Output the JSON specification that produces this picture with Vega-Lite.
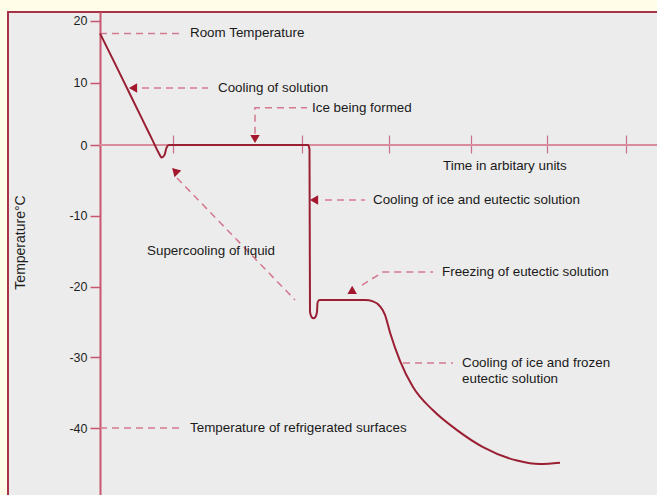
{
  "$schema": "https://vega.github.io/schema/vega-lite/v6.json",
  "width": 650,
  "height": 484,
  "autosize": {"type": "none"},
  "padding": {"left": 8, "top": 12, "right": 0, "bottom": 0},
  "background": "#fffde7",
  "config": {
    "view": {"fill": "#ececec", "stroke": "#a8324a", "strokeWidth": 2},
    "font": "Liberation Sans"
  },
  "encoding": {
    "x": {
      "field": "x", "type": "quantitative",
      "scale": {"domain": [-9.2, 55.8], "nice": false, "zero": false},
      "axis": {
        "orient": "bottom", "offset": -361, "values": [7.3, 20.2, 28.9, 37.1, 44.7, 52.6],
        "domain": false, "labels": false, "grid": false, "ticks": true, "tickSize": 18,
        "tickColor": "#c8708a", "tickWidth": 1.2, "title": null
      }
    },
    "y": {
      "field": "y", "type": "quantitative",
      "scale": {"domain": [-49.61, 0, 21.45], "range": [484, 133, 0], "nice": false, "zero": false},
      "axis": {
        "orient": "left", "offset": -92, "values": [20, 10, 0, -10, -20, -30, -40], "grid": false,
        "labelExpr": "datum.value + ''",
        "domainColor": "#c8566e", "domainWidth": 2, "tickColor": "#c8566e", "tickSize": 10, "tickWidth": 1.5,
        "labelFont": "Liberation Sans", "labelFontSize": 12.5, "labelColor": "#1e1e1e", "labelPadding": 3,
        "title": "Temperature°C", "titleX": -80, "titleY": 230, "titleAngle": -90, "titleAlign": "center",
        "titleBaseline": "middle", "titleFontSize": 14, "titleFontWeight": "normal", "titleColor": "#1e1e1e",
        "titleFont": "Liberation Sans"
      }
    }
  },
  "layer": [
    {
      "data": {"values": [{"x": 0, "x2": 55.8, "y": 0}]},
      "mark": {"type": "rule", "color": "#d88c9c", "strokeWidth": 2},
      "encoding": {"x2": {"field": "x2"}}
    },
    {
      "data": {"values": [
        {"seg": "A", "o": 1, "x": 0, "y": 18}, {"seg": "A", "o": 2, "x": 8.3, "y": 18},
        {"seg": "B", "o": 1, "x": 4.2, "y": 9.2}, {"seg": "B", "o": 2, "x": 10.8, "y": 9.2},
        {"seg": "C", "o": 1, "x": 15.5, "y": 1.8}, {"seg": "C", "o": 2, "x": 15.5, "y": 6.0}, {"seg": "C", "o": 3, "x": 20.7, "y": 6.0},
        {"seg": "D", "o": 1, "x": 22.5, "y": -7.77}, {"seg": "D", "o": 2, "x": 26.5, "y": -7.77},
        {"seg": "E", "o": 1, "x": 7.7, "y": -4.66}, {"seg": "E", "o": 2, "x": 19.5, "y": -21.9},
        {"seg": "F", "o": 1, "x": 26.2, "y": -19.8}, {"seg": "F", "o": 2, "x": 28.3, "y": -17.95}, {"seg": "F", "o": 3, "x": 33.3, "y": -17.95},
        {"seg": "G", "o": 1, "x": 30.3, "y": -30.8}, {"seg": "G", "o": 2, "x": 35.3, "y": -30.8},
        {"seg": "H", "o": 1, "x": 0, "y": -40}, {"seg": "H", "o": 2, "x": 8.3, "y": -40}
      ]},
      "mark": {"type": "line", "color": "#d4788e", "strokeWidth": 1.5, "strokeDash": [7, 5]},
      "encoding": {"detail": {"field": "seg"}, "order": {"field": "o"}}
    },
    {
      "data": {"values": [
        {"x": 0, "y": 18}, {"x": 1.5, "y": 13.13}, {"x": 3.0, "y": 8.18}, {"x": 4.5, "y": 3.24},
        {"x": 5.2, "y": 0.94}, {"x": 5.9, "y": -1.2}, {"x": 6.15, "y": -1.75}, {"x": 6.45, "y": -1.4},
        {"x": 6.65, "y": -0.4}, {"x": 6.9, "y": 0}, {"x": 20.8, "y": 0}, {"x": 20.95, "y": -0.6},
        {"x": 21.0, "y": -23.6}, {"x": 21.15, "y": -24.3}, {"x": 21.35, "y": -24.5}, {"x": 21.55, "y": -24.3},
        {"x": 21.7, "y": -23.6}, {"x": 21.75, "y": -22.3}, {"x": 21.95, "y": -21.9}, {"x": 26.5, "y": -21.9},
        {"x": 27.3, "y": -22.1}, {"x": 28.0, "y": -22.8}, {"x": 28.5, "y": -24.0}, {"x": 29.0, "y": -26.5},
        {"x": 30.0, "y": -30.5}, {"x": 31.3, "y": -34.2}, {"x": 33.3, "y": -37.5}, {"x": 35.7, "y": -40.3},
        {"x": 38.3, "y": -42.7}, {"x": 41.7, "y": -44.6}, {"x": 44.0, "y": -45.1}, {"x": 46.0, "y": -44.9}
      ]},
      "mark": {"type": "line", "color": "#9a1f33", "strokeWidth": 2, "interpolate": "monotone"}
    },
    {
      "data": {"values": [{"x": 3.3, "y": 9.2}, {"x": 21.4, "y": -7.77}]},
      "mark": {"type": "point", "shape": "triangle-left", "filled": true, "color": "#a3182c", "opacity": 1, "size": 90}
    },
    {
      "data": {"values": [{"x": 15.5, "y": 0.97}]},
      "mark": {"type": "point", "shape": "triangle-down", "filled": true, "color": "#a3182c", "opacity": 1, "size": 90}
    },
    {
      "data": {"values": [{"x": 7.5, "y": -3.67}]},
      "mark": {"type": "point", "shape": "triangle-up", "angle": -45, "filled": true, "color": "#a3182c", "opacity": 1, "size": 90}
    },
    {
      "data": {"values": [{"x": 25.1, "y": -20.78}]},
      "mark": {"type": "point", "shape": "triangle-up", "angle": -120, "filled": true, "color": "#a3182c", "opacity": 1, "size": 90}
    },
    {
      "data": {"values": [
        {"x": 9.0, "y": 18.06, "label": "Room Temperature"},
        {"x": 11.8, "y": 9.2, "label": "Cooling of solution"},
        {"x": 21.2, "y": 6.0, "label": "Ice being formed"},
        {"x": 34.3, "y": -2.97, "label": "Time in arbitary units"},
        {"x": 27.3, "y": -7.77, "label": "Cooling of ice and eutectic solution"},
        {"x": 4.7, "y": -14.98, "label": "Supercooling of liquid"},
        {"x": 34.2, "y": -17.95, "label": "Freezing of eutectic solution"},
        {"x": 36.2, "y": -30.8, "label": "Cooling of ice and frozen"},
        {"x": 36.2, "y": -33.1, "label": "eutectic solution"},
        {"x": 9.0, "y": -40.0, "label": "Temperature of refrigerated surfaces"}
      ]},
      "mark": {"type": "text", "align": "left", "baseline": "middle", "font": "Liberation Sans", "fontSize": 13.4, "color": "#1a1a1a"},
      "encoding": {"text": {"field": "label"}}
    }
  ]
}
